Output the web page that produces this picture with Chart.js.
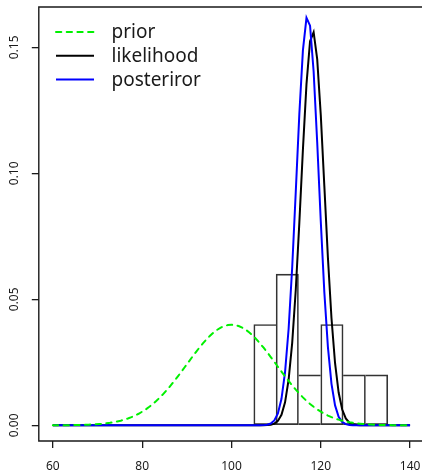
<!DOCTYPE html>
<html>
<head>
<meta charset="utf-8">
<script src="https://cdn.jsdelivr.net/npm/chart.js@4"></script>
<style>
  html, body { margin: 0; padding: 0; background: #fff; }
</style>
</head>
<body>
<canvas id="grafica" width="422" height="472"></canvas>
<script>
// Rejilla de x (paso 0.8 entre 60 y 140)
const xGrid = [
  60, 60.8, 61.6, 62.4, 63.2, 64, 64.8, 65.6, 66.4, 67.2,
  68, 68.8, 69.6, 70.4, 71.2, 72, 72.8, 73.6, 74.4, 75.2,
  76, 76.8, 77.6, 78.4, 79.2, 80, 80.8, 81.6, 82.4, 83.2,
  84, 84.8, 85.6, 86.4, 87.2, 88, 88.8, 89.6, 90.4, 91.2,
  92, 92.8, 93.6, 94.4, 95.2, 96, 96.8, 97.6, 98.4, 99.2,
  100, 100.8, 101.6, 102.4, 103.2, 104, 104.8, 105.6, 106.4, 107.2,
  108, 108.8, 109.6, 110.4, 111.2, 112, 112.8, 113.6, 114.4, 115.2,
  116, 116.8, 117.6, 118.4, 119.2, 120, 120.8, 121.6, 122.4, 123.2,
  124, 124.8, 125.6, 126.4, 127.2, 128, 128.8, 129.6, 130.4, 131.2,
  132, 132.8, 133.6, 134.4, 135.2, 136, 136.8, 137.6, 138.4, 139.2,
  140
];

const prior = [
  0.0000134, 0.0000183, 0.000025, 0.0000339, 0.0000458, 0.0000612, 0.0000814, 0.0001075, 0.0001411, 0.000184,
  0.000238, 0.000307, 0.000393, 0.000499, 0.000631, 0.000792, 0.000987, 0.001223, 0.001506, 0.001842,
  0.002239, 0.002705, 0.003245, 0.003869, 0.004586, 0.005399, 0.006316, 0.007339, 0.008478, 0.009731,
  0.01109, 0.01257, 0.01415, 0.01582, 0.01759, 0.01942, 0.02131, 0.02323, 0.02516, 0.02709,
  0.02897, 0.03079, 0.0325, 0.0341, 0.03555, 0.03683, 0.0379, 0.03876, 0.03939, 0.03977,
  0.03989,
  0.03977, 0.03939, 0.03876, 0.0379, 0.03683, 0.03555, 0.0341, 0.0325, 0.03079, 0.02897,
  0.02709, 0.02516, 0.02323, 0.02131, 0.01942, 0.01759, 0.01582, 0.01415, 0.01257, 0.01109,
  0.009731, 0.008478, 0.007339, 0.006316, 0.005399, 0.004586, 0.003869, 0.003245, 0.002705, 0.002239,
  0.001842, 0.001506, 0.001223, 0.000987, 0.000792, 0.000631, 0.000499, 0.000393, 0.000307, 0.000238,
  0.000184, 0.0001411, 0.0001075, 0.0000814, 0.0000612, 0.0000458, 0.0000339, 0.000025, 0.0000183, 0.0000134
];

const likelihood = [
  0, 0, 0, 0, 0, 0, 0, 0, 0, 0,
  0, 0, 0, 0, 0, 0, 0, 0, 0, 0,
  0, 0, 0, 0, 0, 0, 0, 0, 0, 0,
  0, 0, 0, 0, 0, 0, 0, 0, 0, 0,
  0, 0, 0, 0, 0, 0, 0, 0, 0, 0,
  0, 0, 0, 0, 0, 0, 0, 0, 0,
  0.00002, 0.00007, 0.00023, 0.00066, 0.00174, 0.00417, 0.00912, 0.01811, 0.03271, 0.05379,
  0.08042, 0.1094, 0.1354, 0.1524, 0.156, 0.1453, 0.1232, 0.09492, 0.06656, 0.04246,
  0.02463, 0.013, 0.00624, 0.00273, 0.00108, 0.00039, 0.00013, 0.00004,
  0, 0, 0, 0, 0, 0, 0, 0, 0, 0,
  0, 0, 0, 0
];

const posterior = [
  0, 0, 0, 0, 0, 0, 0, 0, 0, 0,
  0, 0, 0, 0, 0, 0, 0, 0, 0, 0,
  0, 0, 0, 0, 0, 0, 0, 0, 0, 0,
  0, 0, 0, 0, 0, 0, 0, 0, 0, 0,
  0, 0, 0, 0, 0, 0, 0, 0, 0, 0,
  0, 0, 0, 0, 0, 0, 0, 0,
  0.00002, 0.00007, 0.00023, 0.0007, 0.00192, 0.00472, 0.01052, 0.02113, 0.03831, 0.06271,
  0.09266, 0.1236, 0.1488, 0.1617, 0.1586, 0.1404, 0.1123, 0.081, 0.05276, 0.03102,
  0.01646, 0.00789, 0.00341, 0.00133, 0.00047, 0.00015, 0.00004, 0.00001,
  0, 0, 0, 0, 0, 0, 0, 0, 0, 0,
  0, 0, 0, 0, 0
];

// Histograma de las observaciones (densidad)
const histBreaks = [105, 110, 115, 120, 125, 130, 135];
const histDensity = [0.04, 0.06, 0.02, 0.04, 0.02, 0.02];

const xTicks = [60, 80, 100, 120, 140];
const yTicks = [0, 0.05, 0.10, 0.15];
const yTickLabels = ['0.00', '0.05', '0.10', '0.15'];
const legendLabels = ['prior', 'likelihood', 'posteriror'];

const FUENTE = '"Noto Sans", "Open Sans", sans-serif';
const TINTA = '#1a1a1a';

Chart.defaults.font.family = FUENTE;
Chart.defaults.color = TINTA;

const puntos = (ys) => xGrid.map((x, i) => ({ x: x, y: ys[i] }));

const barras = histDensity.map((d, i) => ({ x: (histBreaks[i] + histBreaks[i + 1]) / 2, y: d }));

// Borde de cada barra: el lado compartido lo dibuja la barra más alta
function bordeBarra(ctx) {
  const i = ctx.dataIndex;
  const n = histDensity.length;
  const h = histDensity;
  return {
    top: 1,
    bottom: 1,
    left: (i === 0 || h[i - 1] < h[i]) ? 1 : 0,
    right: (i === n - 1 || h[i + 1] <= h[i]) ? 1 : 0
  };
}

// Caja del gráfico y leyenda al estilo R
const marcoYLeyenda = {
  id: 'marcoYLeyenda',
  afterDraw(chart) {
    const ctx = chart.ctx;
    const a = chart.chartArea;
    ctx.save();
    ctx.strokeStyle = TINTA;
    ctx.lineWidth = 1.4;
    ctx.beginPath();
    ctx.moveTo(a.right + 3, a.top);
    ctx.lineTo(a.left, a.top);
    ctx.lineTo(a.left, a.bottom);
    ctx.lineTo(a.right + 3, a.bottom);
    ctx.stroke();
    ctx.restore();

    const filas = [32, 55.8, 79.6];
    legendLabels.forEach((txt, i) => {
      const ds = chart.data.datasets[i];
      ctx.save();
      ctx.strokeStyle = ds.borderColor;
      ctx.lineWidth = ds.borderWidth;
      ctx.lineCap = ds.borderCapStyle || 'butt';
      ctx.setLineDash(ds.borderDash || []);
      ctx.beginPath();
      ctx.moveTo(56, filas[i]);
      ctx.lineTo(94, filas[i]);
      ctx.stroke();
      ctx.setLineDash([]);
      ctx.fillStyle = TINTA;
      ctx.font = '19px ' + FUENTE;
      ctx.textBaseline = 'middle';
      ctx.fillText(txt, 111.5, filas[i] + 1);
      ctx.restore();
    });
  }
};

const ejeComun = {
  grid: { drawOnChartArea: false, drawTicks: true, tickLength: 7, color: TINTA, lineWidth: 1.3, offset: false },
  border: { display: false }
};

new Chart(document.getElementById('grafica'), {
  type: 'line',
  data: {
    datasets: [
      {
        label: legendLabels[0], data: puntos(prior), order: 0,
        borderColor: '#00f000', borderWidth: 2, borderDash: [5.3, 5.4], borderCapStyle: 'round',
        pointRadius: 0, tension: 0
      },
      {
        label: legendLabels[1], data: puntos(likelihood), order: 2,
        borderColor: '#000000', borderWidth: 2, pointRadius: 0, tension: 0
      },
      {
        label: legendLabels[2], data: puntos(posterior), order: 1,
        borderColor: '#0000ff', borderWidth: 2, pointRadius: 0, tension: 0
      },
      {
        type: 'bar', label: 'datos', data: barras, order: 3,
        backgroundColor: 'rgba(0,0,0,0)', borderColor: '#333333',
        borderWidth: bordeBarra, borderSkipped: false,
        barPercentage: 1, categoryPercentage: 1
      }
    ]
  },
  options: {
    responsive: false,
    animation: false,
    layout: { padding: { top: 7, left: 0, right: 0, bottom: 0 } },
    plugins: { legend: { display: false }, tooltip: { enabled: false } },
    scales: {
      x: {
        ...ejeComun,
        type: 'linear', min: 56.85, max: 142.67, offset: false,
        afterBuildTicks: (s) => { s.ticks = xTicks.map(v => ({ value: v })); },
        afterFit: (s) => { s.height = 31; s.paddingLeft = 0; s.paddingRight = 0; },
        ticks: { font: { size: 12 }, color: TINTA, padding: 11.5, maxRotation: 0, autoSkip: false,
                 callback: (v) => String(v) }
      },
      y: {
        ...ejeComun,
        type: 'linear', min: -0.00623, max: 0.166,
        afterBuildTicks: (s) => { s.ticks = yTicks.map(v => ({ value: v })); },
        afterFit: (s) => { s.width = 38.8; s.paddingTop = 0; s.paddingBottom = 0; },
        ticks: { font: { size: 12 }, color: TINTA, padding: 5, minRotation: 90, maxRotation: 90,
                 crossAlign: 'center', autoSkip: false,
                 callback: (v, i) => yTickLabels[i] }
      }
    }
  },
  plugins: [marcoYLeyenda]
});
</script>
</body>
</html>
